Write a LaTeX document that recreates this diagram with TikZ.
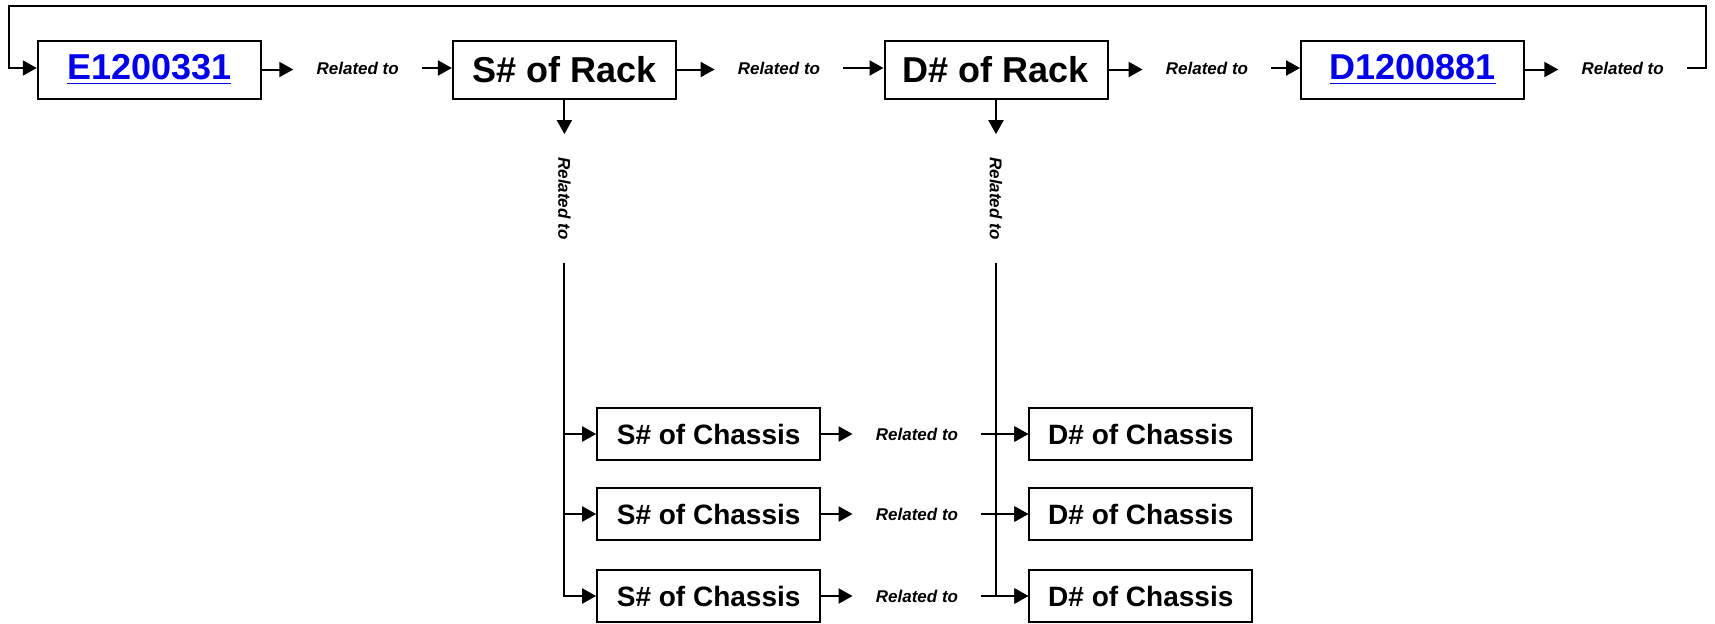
\documentclass[tikz,border=0pt]{standalone}
\usepackage{fontspec}
\setmainfont{Liberation Sans}
\usetikzlibrary{arrows.meta,positioning,calc}
\definecolor{link}{HTML}{0000EE}
\tikzset{
  box/.style ={draw, rectangle, line width=1pt, minimum width=111.5pt, minimum height=29pt,
               inner sep=0pt, font=\fontsize{18}{20}\selectfont\bfseries, fill=white},
  doc/.style ={box, text=link},
  chas/.style={box, minimum height=26pt, font=\fontsize{14}{16}\selectfont\bfseries},
  rel/.style ={inner sep=0pt, minimum width=64pt, minimum height=10pt,
               font=\fontsize{8.5}{10}\selectfont\bfseries\itshape},
  ar/.style  ={-{Triangle[length=7pt,width=7.5pt]}, line width=1pt},
}
\begin{document}
\begin{tikzpicture}[x=0.5pt,y=0.5pt]
\useasboundingbox (0,0) rectangle (1715,-623);
% top row
\node[doc] (ecn) at (149.3,-69.5) {\underline{E1200331}};
\node[box] (srack) at (564.4,-69.5) {S\# of Rack};
\node[box] (drack) at (996,-69.5) {D\# of Rack};
\node[doc] (dcn) at (1412.6,-69.5) {\underline{D1200881}};
\node[rel] (r1) at (357.7,-68) {Related to};
\node[rel] (r2) at (779,-68) {Related to};
\node[rel] (r3) at (1207,-68) {Related to};
\node[rel] (r4) at (1622.7,-68) {Related to};
\draw[ar] (ecn.east) -- (ecn.east -| r1.west);
\draw[ar] (r1.east) -- (srack.west |- r1.east);
\draw[ar] (srack.east) -- (srack.east -| r2.west);
\draw[ar] (r2.east) -- (drack.west |- r2.east);
\draw[ar] (drack.east) -- (drack.east -| r3.west);
\draw[ar] (r3.east) -- (dcn.west |- r3.east);
\draw[ar] (dcn.east) -- (dcn.east -| r4.west);
% loop back to the first box
\coordinate (tr) at (1706,-5.5);
\coordinate (tl) at (8.75,-5.5);
\draw[ar] (r4.east) -| (tr) -- (tl) |- (ecn.west |- r1.west);
% down from the racks
\node[rel, rotate=-90] (vs) at (564.4,-198.5) {Related to};
\node[rel, rotate=-90] (vd) at (996,-198.5) {Related to};
\draw[ar] (srack.south) -- (vs.west);
\draw[ar] (drack.south) -- (vd.west);
% chassis rows
\node[chas] (sc1) at (708.7,-434) {S\# of Chassis};
\node[chas] (sc2) at (708.7,-514) {S\# of Chassis};
\node[chas] (sc3) at (708.7,-596) {S\# of Chassis};
\node[chas] (dc1) at (1140.8,-434) {D\# of Chassis};
\node[chas] (dc2) at (1140.8,-514) {D\# of Chassis};
\node[chas] (dc3) at (1140.8,-596) {D\# of Chassis};
\node[rel] (rc1) at (917,-434) {Related to};
\node[rel] (rc2) at (917,-514) {Related to};
\node[rel] (rc3) at (917,-596) {Related to};
\draw[ar] (vs.east) |- (sc3.west);
\draw[ar] (sc1.west -| vs.east) -- (sc1.west);
\draw[ar] (sc2.west -| vs.east) -- (sc2.west);
\draw[ar] (vd.east) |- (dc3.west);
\draw[ar] (dc1.west -| vd.east) -- (dc1.west);
\draw[ar] (dc2.west -| vd.east) -- (dc2.west);
\draw[ar] (sc1.east) -- (rc1.west);
\draw[ar] (sc2.east) -- (rc2.west);
\draw[ar] (sc3.east) -- (rc3.west);
\draw[ar] (rc1.east) -- (dc1.west);
\draw[ar] (rc2.east) -- (dc2.west);
\draw[ar] (rc3.east) -- (dc3.west);
\end{tikzpicture}
\end{document}
